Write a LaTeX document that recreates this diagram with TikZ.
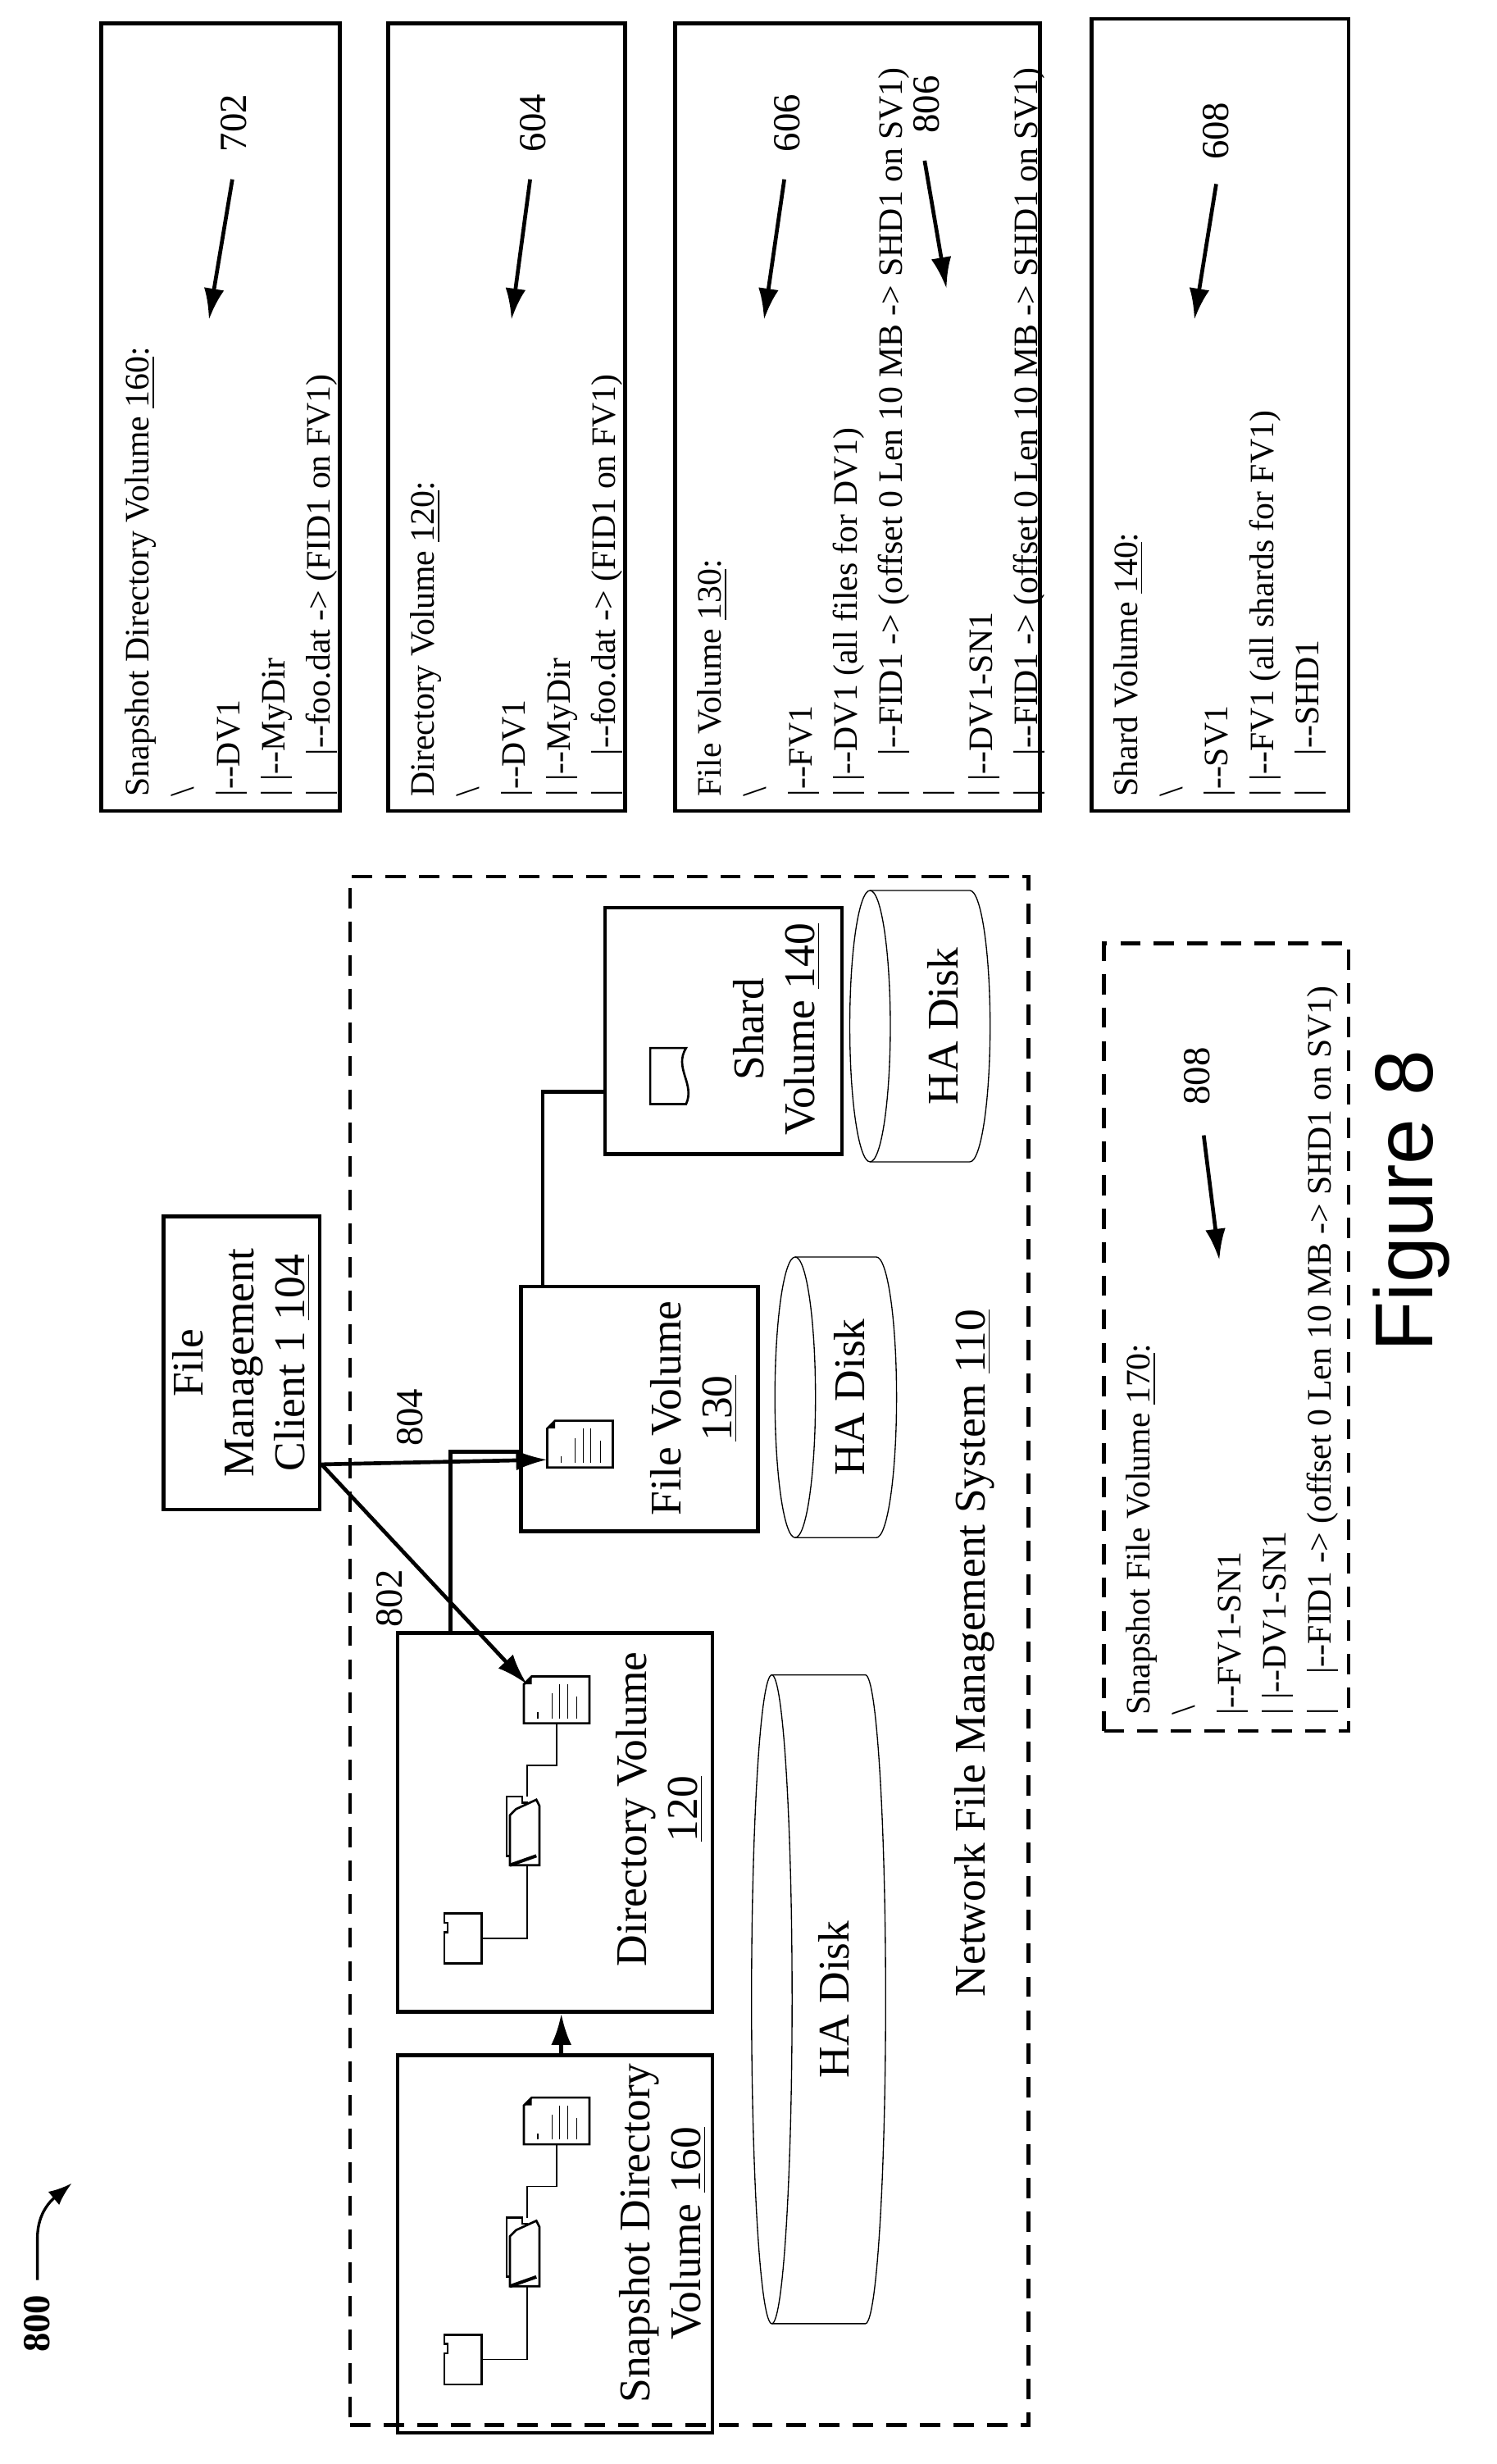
\documentclass[tikz,border=0pt]{standalone}
\usepackage{fontspec}
\setmainfont{Liberation Serif}
\newfontfamily\figfont{Liberation Sans}
\usetikzlibrary{arrows.meta,calc}

\tikzset{
	box/.style={draw, line width=1.4pt, inner sep=0pt},
	lbl/.style={rotate=90, align=center, font=\fontsize{16}{18.5}\selectfont, inner sep=0pt},
	num/.style={rotate=90, font=\fontsize{14}{16}\selectfont, inner sep=0pt},
	lst/.style={rotate=90, align=left, anchor=north west, font=\fontsize{12.5}{16.5}\selectfont, inner sep=0pt},
	arr/.style={line width=1.4pt, -{Latex[length=4mm,width=2.6mm]}},
	disk/.style={line width=0.4pt},
	doc/.pic={
		\draw[thick, fill=white] (-16,-15) -- (21,-15) -- (21,15) -- (-21,15) -- (-21,-10) -- cycle;
		\fill (-16,-15) -- (-21,-10) -- (-16,-10) -- cycle;
		\foreach \a/\b in {-12/8, -3/-4, 2/-10, 7/-10, 13/-2}
			\draw (\a,12) -- (\a,\b);
		\coordinate (-b) at (0,15);
		\coordinate (-l) at (-21,10);
	},
	folder/.pic={
		\draw[thick, fill=white] (-8,-24) -- (2,-24) -- (2,-20) -- (5,-20) -- (5,14) -- (-8,14) -- cycle;
		\draw[thick, fill=white] (-2,-16) -- (11,-22) -- (13,-18) -- (13,20) -- (-6,20) -- (-6,-12) -- cycle;
		\draw[very thick] (-6,20) -- (11,14);
		\coordinate (-t) at (5,-24);
		\coordinate (-b) at (5,20);
	},
	smallfolder/.pic={
		\draw[thick, fill=white] (-12,-16) -- (12,-16) -- (12,16) -- (-12,16) -- (-12,-4) -- (-10,-4) -- (-10,-10) -- (-12,-10) -- cycle;
		\coordinate (-r) at (12,0);
	}
}

\newcommand\hadisk[4]{% left x, right x, centre y, half height
	\draw[disk] (#1,#3) ellipse [x radius=13, y radius=#4];
	\draw[disk] (#1,#3-#4) -- (#2,#3-#4) arc[start angle=-90, end angle=90, x radius=13, y radius=#4] -- (#1,#3+#4);
}

\begin{document}
\begin{tikzpicture}[x=0.02cm, y=-0.02cm]
	\useasboundingbox (0,0) rectangle (960,1580);

	% listing boxes
	\node (b702) [box, minimum width=3.06cm, minimum height=10.1cm] at (141.5,267.5) {};
	\node (t702) [lst] at (80,511) {Snapshot Directory Volume \underline{160}:\\ \textbackslash\\ |-{}-DV1\\ | |-{}-MyDir\\ |\quad |-{}-foo.dat -> (FID1 on FV1)};
	\node (b604) [box, minimum width=3.04cm, minimum height=10.1cm] at (325,267.5) {};
	\node (t604) [lst] at (263,511) {Directory Volume \underline{120}:\\ \textbackslash\\ |-{}-DV1\\ | |-{}-MyDir\\ |\quad |-{}-foo.dat -> (FID1 on FV1)};
	\node (b606) [box, minimum width=4.68cm, minimum height=10.1cm] at (550,267.5) {};
	\node (t606) [lst] at (447,511) {File Volume \underline{130}:\\ \textbackslash\\ |-{}-FV1\\ | |-{}-DV1 (all files for DV1)\\ |\quad |-{}-FID1 -> (offset 0 Len 10 MB -> SHD1 on SV1)\\ |\\ | |-{}-DV1-SN1\\ |\quad |-{}-FID1 -> (offset 0 Len 10 MB -> SHD1 on SV1)};
	\node (b608) [box, minimum width=3.3cm, minimum height=10.16cm] at (782.5,266) {};
	\node (t608) [lst] at (714,511) {Shard Volume \underline{140}:\\ \textbackslash\\ |-{}-SV1\\ | |-{}-FV1 (all shards for FV1)\\ |\quad |-{}-SHD1};

	% reference numerals
	\node (n702) [num] at (150,79) {702};
	\coordinate (a702) at (134,205);
	\draw[arr] (149,115) -- (a702);
	\node (n604) [num] at (342,79) {604};
	\coordinate (a604) at (328,205);
	\draw[arr] (340,115) -- (a604);
	\node (n606) [num] at (505,79) {606};
	\coordinate (a606) at (490,205);
	\draw[arr] (503,115) -- (a606);
	\node (n806) [num] at (594,67) {806};
	\coordinate (a806) at (607,185);
	\draw[arr] (593,103) -- (a806);
	\node (n608) [num] at (780,84) {608};
	\coordinate (a608) at (766,205);
	\draw[arr] (780,118) -- (a608);

	% network file management system
	\node (nfms) [box, dashed, dash pattern=on 0.26cm off 0.17cm, minimum width=8.7cm, minimum height=19.86cm] at (442,1058.5) {};
	\node (nfmsl) [lbl] at (625,1060) {Network File Management System \underline{110}};

	\node (client) [box, minimum width=2cm, minimum height=3.76cm] at (155,874) {};
	\node (clientl) [lbl] at (155,874) {File\\ Management\\ Client 1 \underline{104}};

	\node (shard) [box, minimum width=3.04cm, minimum height=3.16cm] at (464,661) {};
	\node (shardl) [lbl] at (498,660) {Shard\\ Volume \underline{140}};
	\draw[thick] (417,672) -- (440,672) .. controls (432,685) and (446,695) .. (440,708) -- (417,708) -- cycle;

	\node (fv) [box, minimum width=3.04cm, minimum height=3.14cm] at (410,903.5) {};
	\node (fvl) [lbl] at (445,903) {File Volume\\ \underline{130}};
	\pic (fvdoc) at (372,926) {doc};

	\node (dv) [box, minimum width=4.04cm, minimum height=4.86cm] at (356,1168.5) {};
	\node (dvl) [lbl] at (423,1160) {Directory Volume\\ \underline{120}};
	\pic (dvdoc) at (357,1090) {doc};
	\pic (dvfold) at (333,1176) {folder};
	\pic (dvsf) at (297,1243) {smallfolder};
	\draw (dvsf-r) -| (dvfold-b);
	\draw (dvfold-t) -- ++(0,-20) -| (dvdoc-b);

	\node (sdv) [box, minimum width=4.04cm, minimum height=4.84cm] at (356,1439) {};
	\node (sdvl) [lbl] at (425,1432) {Snapshot Directory\\ Volume \underline{160}};
	\pic (sdvdoc) at (357,1360) {doc};
	\pic (sdvfold) at (333,1446) {folder};
	\pic (sdvsf) at (297,1513) {smallfolder};
	\draw (sdvsf-r) -| (sdvfold-b);
	\draw (sdvfold-t) -- ++(0,-20) -| (sdvdoc-b);

	% disks
	\hadisk{558}{622}{658}{87}
	\node (d140) [lbl] at (605,658) {HA Disk};
	\hadisk{510}{562}{896}{90}
	\node (d130) [lbl] at (545,896) {HA Disk};
	\hadisk{495}{555}{1282}{208}
	\node (d120) [lbl] at (535,1282) {HA Disk};

	% connectors
	\draw[arr] (sdv.north -| 360,0) -- (dv.south -| 360,0);
	\draw[line width=1.4pt] (fv.north -| 348,0) -- (348,700) -- (shard.west |- 0,700);
	\draw[line width=1.4pt] (dv.north -| 289,0) -- (289,931) -- (fv.west |- 0,931);
	\draw[arr] (client.east |- 0,939) -- (fvdoc-l);
	\draw[arr] (client.east |- 0,939) -- (338,1080);
	\node (n804) [num] at (263,909) {804};
	\node (n802) [num] at (250,1025) {802};

	% snapshot file volume
	\node (b170) [box, dashed, dash pattern=on 0.26cm off 0.17cm, minimum width=3.14cm, minimum height=10.1cm] at (786.5,857.5) {};
	\node (t170) [lst] at (722,1100) {Snapshot File Volume \underline{170}:\\ \textbackslash\\ |-{}-FV1-SN1\\ | |-{}-DV1-SN1\\ |\quad |-{}-FID1 -> (offset 0 Len 10 MB -> SHD1 on SV1)};
	\node (n808) [num] at (768,690) {808};
	\coordinate (a808) at (782,808);
	\draw[arr] (772,728) -- (a808);

	\node (fig) [rotate=90, font=\figfont\fontsize{30}{32}\selectfont] at (905,770) {Figure 8};

	\node (n800) [rotate=90, font=\bfseries\fontsize{14}{16}\selectfont] at (24,1490) {800};
	\coordinate (a800) at (46,1400);
	\draw[line width=1pt, -{Latex[length=3mm,width=2.2mm]}] (24,1462) -- (24,1435) .. controls (24,1418) and (34,1410) .. (a800);
\end{tikzpicture}
\end{document}
